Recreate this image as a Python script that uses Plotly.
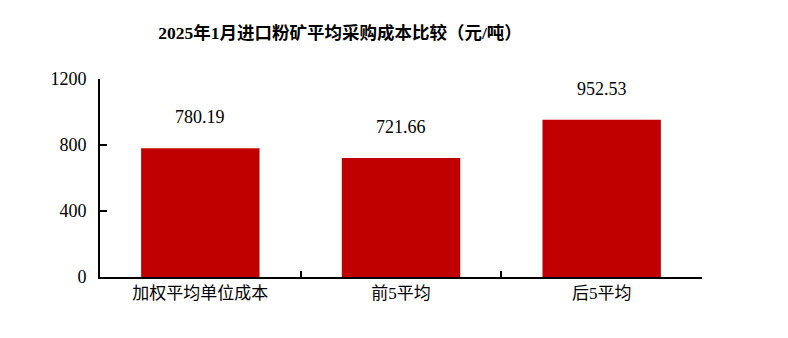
import plotly.graph_objects as go

categories = ["加权平均单位成本", "前5平均", "后5平均"]
values = [780.19, 721.66, 952.53]
value_labels = ["780.19", "721.66", "952.53"]
y_ticks = [0, 400, 800, 1200]

font_main = "Liberation Serif, Noto Sans CJK SC, serif"

fig = go.Figure()
fig.add_trace(go.Bar(
    x=categories, y=values, marker_color="#C00000", marker_line_width=0, width=0.59,
    hoverinfo="x+y",
))
for c, v, t in zip(categories, values, value_labels):
    fig.add_annotation(x=c, y=v, text=t, showarrow=False, yanchor="middle",
                       yshift=31, font=dict(size=18, color="#000", family=font_main))

fig.update_layout(
    width=788, height=338,
    margin=dict(l=100, r=86, t=79, b=61),
    paper_bgcolor="white", plot_bgcolor="white",
    showlegend=False,
    title=dict(text="<b>2025年1月进口粉矿平均采购成本比较（元/吨）</b>",
               x=340/788, xanchor="center", y=1-33/338, yanchor="middle",
               font=dict(size=17.5, color="#000", family=font_main)),
    xaxis=dict(showline=True, linecolor="#000", linewidth=2,
               ticks="inside", tickson="boundaries", ticklen=6, tickwidth=2, tickcolor="#000",
               tickfont=dict(size=17, color="#000", family=font_main),
               showgrid=False),
    yaxis=dict(range=[0, 1200], tickvals=y_ticks, showline=True, linecolor="#000", linewidth=2,
               ticks="inside", ticklen=7, tickwidth=2, tickcolor="#000",
               tickfont=dict(size=18, color="#000", family=font_main),
               showgrid=False, zeroline=False, ticklabelstandoff=8),
)
fig.write_html("out.html")
